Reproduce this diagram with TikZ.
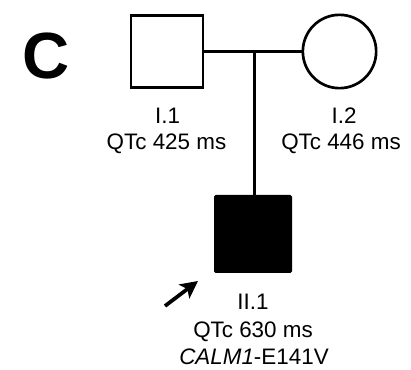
\documentclass[tikz,border=0pt]{standalone}
\usepackage{fontspec}
\setmainfont{Liberation Sans}
\usetikzlibrary{arrows.meta}
\begin{document}
\begin{tikzpicture}[x=0.75pt,y=-0.75pt,
  lbl/.style={anchor=base,inner sep=0pt,font=\fontsize{16.8}{18}\selectfont},
  ln/.style={line width=2.2pt}]
\useasboundingbox (0,0) rectangle (411,370);
\node[anchor=base,inner sep=0pt,font=\fontsize{49}{50}\selectfont\bfseries] (C) at (46.5,79) {C};
% generation I
\node[draw,line width=2pt,minimum size=54pt,inner sep=0pt] (i1) at (167,51.5) {};
\node[draw,circle,line width=2pt,minimum size=55pt,inner sep=0pt] (i2) at (339.5,51.5) {};
\coordinate (m) at (254.5,51.5);
\draw[ln] (i1.east) -- (i2.west);
% generation II
\node[draw,fill=black,line width=1pt,rounded corners=1pt,minimum size=57.5pt,inner sep=0pt] (ii1) at (253,234) {};
\draw[ln] (m) -- (m |- ii1.north);
% labels
\node[lbl] (t1a) at (167.5,124) {I.1};
\node[lbl] (t1b) at (166.5,150) {QTc 425 ms};
\node[lbl] (t2a) at (344,124) {I.2};
\node[lbl] (t2b) at (341,150) {QTc 446 ms};
\node[lbl] (t3a) at (253,310) {II.1};
\node[lbl] (t3b) at (253,338) {QTc 630 ms};
\node[lbl] (t3c) at (254,365) {\textit{CALM1}-E141V};
% proband arrow
\coordinate (a0) at (165,306);
\coordinate (a1) at (198,281);
\draw[line width=2.8pt,-{Stealth[length=13pt,width=13pt,inset=3pt]}] (a0) -- (a1);
\end{tikzpicture}
\end{document}
